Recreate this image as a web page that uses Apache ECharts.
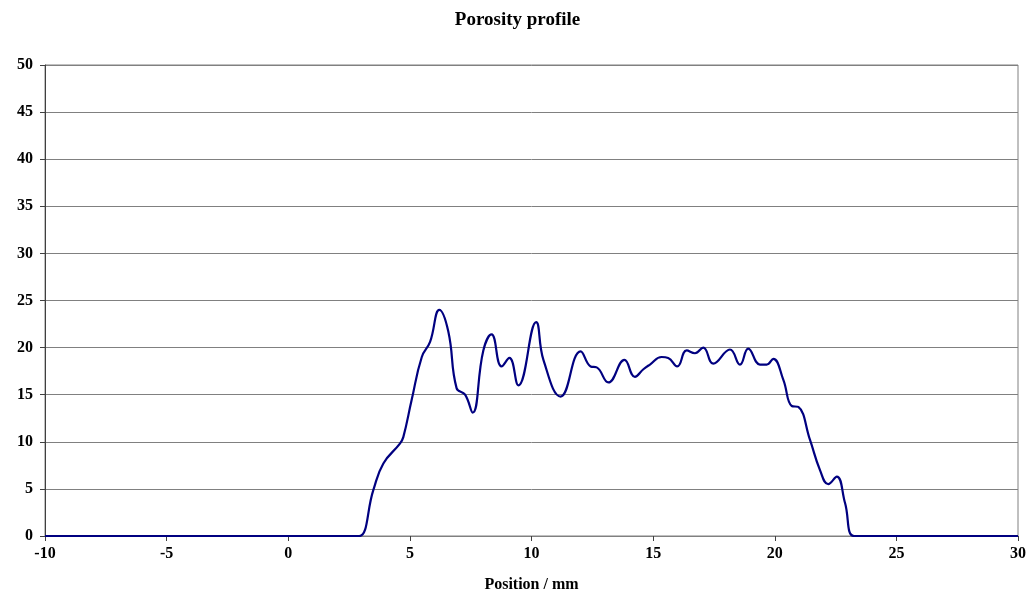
<!DOCTYPE html>
<html>
<head>
<meta charset="utf-8">
<script src="https://cdn.jsdelivr.net/npm/echarts@6/dist/echarts.min.js"></script>
<style>html,body{margin:0;padding:0;background:#fff}#c{width:1035px;height:599px}</style>
</head>
<body>
<div id="c"></div>
<script>
var positions = [-10, 0, 2.5, 2.92, 3.5, 3.91, 4.59, 4.73, 5.07, 5.49, 5.83, 6.21, 6.58, 6.92, 7.27, 7.58, 8.02, 8.36, 8.77, 9.09, 9.46, 10.19, 10.49, 11.2, 12.02, 12.43, 12.68, 13.16, 13.82, 14.25, 14.6, 14.87, 15.35, 15.62, 15.99, 16.38, 16.72, 17.06, 17.47, 18.16, 18.57, 18.91, 19.39, 19.67, 19.94, 20.35, 20.7, 20.97, 21.45, 21.86, 22.2, 22.55, 22.89, 23.26, 24, 30];
var porosity = [0, 0, 0, 0, 4.9, 7.7, 9.8, 10.5, 14.4, 19.0, 20.6, 24.0, 21.7, 15.7, 15.0, 13.1, 19.7, 21.4, 18.0, 18.9, 16.0, 22.7, 18.7, 14.8, 19.6, 18.0, 17.9, 16.3, 18.7, 16.9, 17.7, 18.2, 19.0, 18.9, 18.0, 19.7, 19.4, 20.0, 18.3, 19.8, 18.2, 19.9, 18.2, 18.2, 18.8, 16.6, 13.8, 13.7, 10.2, 7.0, 5.5, 6.3, 3.5, 0, 0, 0];
var xTicks = [-10, -5, 0, 5, 10, 15, 20, 25, 30];
var yTicks = [0, 5, 10, 15, 20, 25, 30, 35, 40, 45, 50];

var data = positions.map(function (x, i) { return [x, porosity[i]]; });
var font = '"Liberation Serif", "Times New Roman", serif';
var chart = echarts.init(document.getElementById('c'), null, {renderer: 'canvas'});
chart.setOption({
  animation: false,
  backgroundColor: '#ffffff',
  title: {
    text: 'Porosity profile', left: 'center', top: 6,
    textStyle: {fontFamily: font, fontWeight: 'bold', fontSize: 19, color: '#000'}
  },
  grid: {left: 45, right: 17, top: 65, bottom: 63, show: true, borderColor: '#808080', borderWidth: 1},
  xAxis: {
    type: 'value', min: xTicks[0], max: xTicks[xTicks.length - 1], interval: 5,
    name: 'Position / mm', nameLocation: 'middle', nameGap: 41,
    nameTextStyle: {fontFamily: font, fontWeight: 'bold', fontSize: 16, color: '#000'},
    axisLine: {show: true, onZero: false, lineStyle: {color: '#808080', width: 1}},
    axisTick: {show: true, inside: false, length: 5, lineStyle: {color: '#404040'}},
    axisLabel: {fontFamily: font, fontWeight: 'bold', fontSize: 16, color: '#000', margin: 10},
    splitLine: {show: false}
  },
  yAxis: {
    type: 'value', min: yTicks[0], max: yTicks[yTicks.length - 1], interval: 5,
    axisLine: {show: true, onZero: false, lineStyle: {color: '#404040', width: 1}},
    axisTick: {show: true, inside: false, length: 5, lineStyle: {color: '#404040'}},
    axisLabel: {fontFamily: font, fontWeight: 'bold', fontSize: 16, color: '#000', margin: 12},
    splitLine: {show: true, lineStyle: {color: '#808080', width: 1}}
  },
  series: [{
    type: 'line', data: data, showSymbol: false, smooth: 0.45,
    lineStyle: {color: '#000080', width: 2.2}
  }]
});
</script>
</body>
</html>
